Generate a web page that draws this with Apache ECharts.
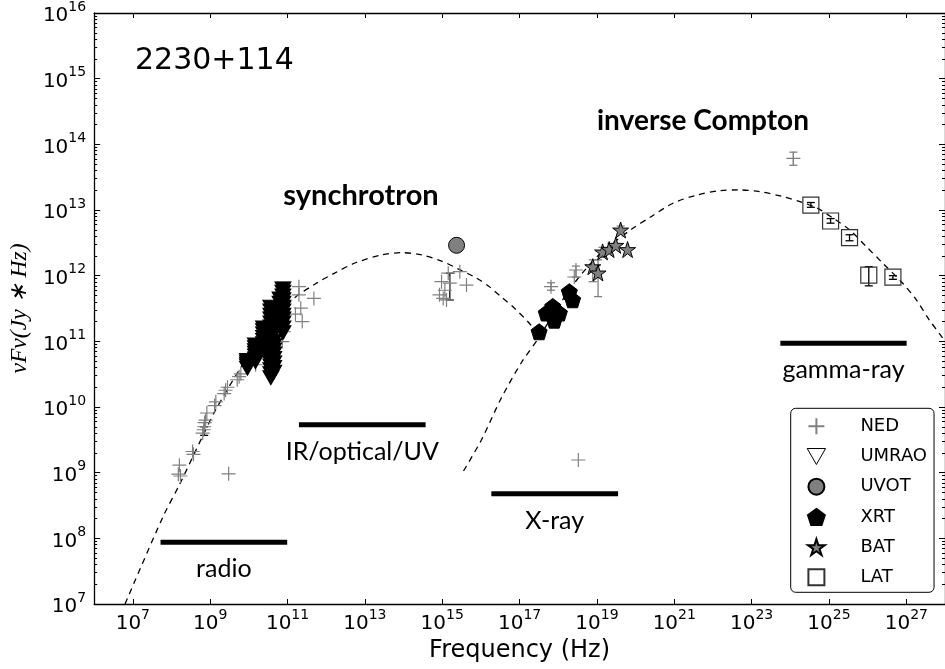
<!DOCTYPE html>
<html><head><meta charset="utf-8">
<script src="https://cdn.jsdelivr.net/npm/echarts@6/dist/echarts.min.js"></script>
<style>html,body{margin:0;padding:0;background:#fff}#c{width:945px;height:669px}</style>
</head><body><div id="c"></div>
<script>
// ---------------- data ----------------
const xTickExps = [7, 9, 11, 13, 15, 17, 19, 21, 23, 25, 27];
const yTickExps = [7, 8, 9, 10, 11, 12, 13, 14, 15, 16];

const nedPoints = [
  [1.6e8, 1.3e9], [1.5e8, 9.5e8], [1.7e8, 8.9e8],
  [3.5e8, 2.1e9], [3.7e8, 1.9e9],
  [6.4e8, 4.0e9], [7.0e8, 5.0e9], [7.6e8, 6.3e9], [8.2e8, 8.1e9], [6.8e8, 4.5e9], [7.2e8, 5.8e9],
  [1.4e9, 1.2e10], [1.3e9, 1.05e10],
  [2.5e9, 1.8e10], [2.8e9, 2.0e10], [2.3e9, 1.6e10],
  [5.6e9, 2.9e10], [6.2e9, 3.2e10], [5.0e9, 2.6e10],
  [3.0e9, 9.6e8],
  [1.5e10, 4.4e10], [7.3e10, 9.9e10], [8.1e10, 1.4e11],
  [1.97e11, 6.8e11], [1.97e11, 5.1e11], [2.2e11, 3.2e11], [2.4e11, 2.0e11], [4.8e11, 4.5e11], [1.6e11, 2.6e11],
  [9.6e14, 8.1e11], [1.06e15, 4.5e11], [1.17e15, 6.0e11], [1.43e15, 1.09e12], [1.57e15, 7.7e11],
  [1.29e15, 4.27e11], [2.85e15, 1.15e12], [4.24e15, 7.2e11], [8.5e14, 5.1e11],
  [6.5e17, 6.8e11], [2.87e18, 1.22e12], [2.6e18, 9.55e11], [3.3e18, 1.56e9],
  [1.2e24, 6.1e13]
];

const umraoNu = [9.2e9, 1.48e10, 2.4e10, 3.7e10, 4.4e10, 6.4e10, 7.6e10];
const umraoFlux = [
  [5.1e10, 4.8e10, 4.5e10, 4.2e10, 3.9e10],
  [8.8e10, 8.0e10, 7.2e10, 6.6e10, 6.0e10, 5.4e10, 4.9e10],
  [1.6e11, 1.45e11, 1.3e11, 1.15e11, 1.03e11, 9.2e10, 8.2e10, 7.2e10],
  [3.3e11, 2.9e11, 2.5e11, 2.2e11, 1.9e11, 1.65e11, 1.45e11, 1.25e11, 1.1e11, 9.6e10, 8.4e10, 7.3e10, 6.3e10, 5.5e10, 4.8e10, 4.2e10, 3.7e10, 3.2e10, 2.8e10],
  [1.0e11, 8.6e10, 7.4e10, 6.4e10, 5.5e10, 4.7e10, 4.0e10, 3.4e10],
  [4.4e11, 3.8e11, 3.2e11, 2.7e11, 2.3e11, 2.0e11, 1.7e11],
  [6.3e11, 5.6e11, 4.9e11, 4.3e11, 3.8e11, 3.3e11, 2.9e11, 2.5e11, 2.2e11, 1.9e11, 1.6e11, 1.35e11]
];

const uvotPoints = [[2.35e15, 2.9e12]];
const xrtPoints = [[3.2e17, 1.4e11], [4.9e17, 2.7e11], [7.2e17, 3.4e11], [1.07e18, 2.7e11], [7.9e17, 2.1e11], [1.93e18, 5.7e11], [2.35e18, 4.3e11]];
const batPoints = [[4.1e19, 4.96e12], [1.4e19, 2.3e12], [2.07e19, 2.5e12], [3.07e19, 2.9e12], [6.2e19, 2.5e12], [7.8e18, 1.37e12], [1.07e19, 1.1e12]];
const latPoints = [[3.4e24, 1.19e13], [1.1e25, 6.8e12], [3.4e25, 3.8e12], [1.07e26, 1.02e12], [4.5e26, 9.5e11]];

// error bars: frequency, low, high, colour
const errNu = [1.07e19, 7.8e18, 1.4e19, 4.1e19, 1.07e26, 3.4e24, 1.1e25, 3.4e25, 4.5e26, 1.2e24, 1.57e15, 7.0e8, 2.87e18, 6.5e17];
const errLo = [4.8e11, 8.1e11, 1.9e12, 4.3e12, 7.0e11, 1.1e13, 6.3e12, 3.4e12, 8.8e11, 4.8e13, 4.27e11, 3.7e9, 9.5e11, 6.0e11];
const errHi = [1.74e12, 1.74e12, 2.7e12, 5.7e12, 1.37e12, 1.3e13, 7.4e12, 4.2e12, 1.0e12, 7.6e13, 1.09e12, 5.0e9, 1.4e12, 7.8e11];
const errColor = ['#808080', '#808080', '#808080', '#808080', '#000', '#000', '#000', '#000', '#000', '#808080', '#000', '#000', '#808080', '#808080'];

// dashed model curves
const syncNu = [6.28e6, 5.97e7, 1.64e8, 6.40e8, 1.38e9, 6.84e9, 3.01e10, 1.32e11, 5.18e11, 1.69e12, 5.55e12, 2.75e13, 9.0e13, 2.94e14, 9.61e14, 2.64e15, 6.81e15, 1.56e16, 3.37e16, 7.28e16, 1.67e17, 3.21e17];
const syncFlux = [1.0e7, 2.11e8, 6.73e8, 3.62e9, 9.02e9, 4.37e10, 1.48e11, 4.27e11, 7.46e11, 1.10e12, 1.56e12, 2.07e12, 2.24e12, 2.07e12, 1.67e12, 1.26e12, 9.55e11, 6.97e11, 4.74e11, 3.22e11, 1.97e11, 1.25e11];
const icNu = [3.55e15, 1.03e16, 3.37e16, 1.10e17, 3.21e17, 8.77e17, 2.87e18, 1.26e19, 7.41e19, 2.43e20, 9.55e20, 3.89e21, 1.51e22, 5.01e22, 1.62e23, 6.46e23, 1.78e24, 4.90e24, 1.26e25, 3.43e25, 9.33e25, 2.43e26, 7.94e26, 1.82e27, 3.94e27, 9.55e27];
const icFlux = [1.06e9, 3.15e9, 1.37e10, 4.68e10, 1.16e11, 3.0e11, 8.3e11, 2.21e12, 4.97e12, 7.83e12, 1.28e13, 1.69e13, 1.97e13, 2.02e13, 1.90e13, 1.60e13, 1.34e13, 1.07e13, 7.55e12, 4.97e12, 2.75e12, 1.56e12, 7.74e11, 4.27e11, 2.11e11, 1.05e11];

// energy bands
const bandNames = ['radio', 'IR/optical/UV', 'X-ray', 'gamma-ray'];
const bandFrom = [5.2e7, 1.97e11, 1.86e16, 5.53e23];
const bandTo = [9.8e10, 3.72e14, 3.52e19, 1.02e27];
const bandLevel = [8.7e7, 5.38e9, 4.79e8, 9.33e10];

// ---------------- chart ----------------
const xTickVals = xTickExps.map(e => Math.pow(10, e));
const yTickVals = yTickExps.map(e => Math.pow(10, e));
const yMinorVals = [];
for (let e = 7; e < 16; e++) for (let m = 2; m <= 9; m++) yMinorVals.push(m * Math.pow(10, e));

const umraoPoints = [];
umraoNu.forEach((nu, i) => umraoFlux[i].forEach(f => umraoPoints.push([nu, f])));

const fontSans = '"DejaVu Sans", sans-serif';
const supFmt = v => '{b|10}{s|' + Math.round(Math.log10(v)) + '}';
const supRich = {
  b: { fontSize: 20, fontFamily: fontSans, color: '#000', lineHeight: 26, verticalAlign: 'bottom' },
  s: { fontSize: 14, fontFamily: fontSans, color: '#000', lineHeight: 26, verticalAlign: 'top' }
};

// y-axis title: fit its length to the reference (about 130 px)
const yTitle = 'νFν(Jy ∗ Hz)';
const yTitleFamily = '"Liberation Serif", serif';
const mctx = document.createElement('canvas').getContext('2d');
mctx.font = 'italic 24px ' + yTitleFamily;
const yTitleSize = Math.max(16, Math.min(30, 24 * 130 / mctx.measureText(yTitle).width));

const crossPath = 'path://M0,50L100,50M50,0L50,100';
const triPath = 'path://M0,0L100,0L50,87Z';
const pentPath = 'path://M50,0L97.55,34.55L79.39,90.45L20.61,90.45L2.45,34.55Z';
const starPath = 'path://M50,0L61.17,34.63L97.55,34.55L68.07,55.87L79.39,90.45L50,69L20.61,90.45L31.93,55.87L2.45,34.55L38.83,34.63Z';
const squarePath = 'path://M0,0L100,0L100,100L0,100Z';

const axisLine = { show: true, lineStyle: { color: '#000', width: 1.3 } };
const common = { type: 'log', logBase: 10, splitLine: { show: false } };

const xAxes = [
  Object.assign({}, common, {
    min: 1e6, max: 1e28, position: 'bottom', axisLine,
    axisTick: { show: true, inside: true, length: 5, customValues: xTickVals, lineStyle: { color: '#000', width: 1 } },
    axisLabel: { show: true, customValues: xTickVals, formatter: supFmt, rich: supRich, margin: 4 },
    name: 'Frequency (Hz)', nameLocation: 'middle', nameGap: 33,
    nameTextStyle: { fontSize: 24, fontFamily: fontSans, color: '#000' }
  }),
  Object.assign({}, common, {
    min: 1e6, max: 1e28, position: 'top', axisLine,
    axisTick: { show: true, inside: true, length: 5, customValues: xTickVals, lineStyle: { color: '#000', width: 1 } },
    axisLabel: { show: false }
  })
];
function yAx(pos, major, labels, named) {
  const a = Object.assign({}, common, {
    min: 1e7, max: 1e16, position: pos, offset: 0,
    axisLine: major ? axisLine : { show: false },
    axisTick: { show: true, inside: true, length: major ? 6 : 3, customValues: major ? yTickVals : yMinorVals, lineStyle: { color: '#000', width: 1 } },
    axisLabel: labels ? { show: true, customValues: yTickVals, formatter: supFmt, rich: supRich, margin: 8 } : { show: false }
  });
  if (named) {
    a.name = yTitle;
    a.nameLocation = 'middle';
    a.nameGap = 60;
    a.nameRotate = 90;
    a.nameTextStyle = { fontSize: yTitleSize, fontFamily: yTitleFamily, fontStyle: 'italic', color: '#000' };
  }
  return a;
}
const yAxes = [yAx('left', true, true, true), yAx('left', false, false, false), yAx('right', true, false, false), yAx('right', false, false, false)];

const series = [];
series.push({ type: 'line', name: 'sync', data: syncNu.map((v, i) => [v, syncFlux[i]]), symbol: 'none', smooth: 0.3, z: 1,
  lineStyle: { color: '#000', width: 1.3, type: [6, 5] }, silent: true });
series.push({ type: 'line', name: 'ic', data: icNu.map((v, i) => [v, icFlux[i]]), symbol: 'none', smooth: 0.3, z: 1,
  lineStyle: { color: '#000', width: 1.3, type: [6, 5] }, silent: true });
bandNames.forEach((n, i) => {
  series.push({ type: 'line', name: 'band' + i, data: [[bandFrom[i], bandLevel[i]], [bandTo[i], bandLevel[i]]], symbol: 'none', z: 2,
    lineStyle: { color: '#000', width: 5, cap: 'butt' }, silent: true });
});
series.push({ type: 'scatter', name: 'bandLabels', z: 2, symbolSize: 0, silent: true,
  itemStyle: { opacity: 1, color: '#000' },
  data: bandNames.map((n, i) => [Math.sqrt(bandFrom[i] * bandTo[i]), bandLevel[i], n]),
  label: { show: true, position: 'inside', offset: [0, 27], formatter: p => p.data[2], fontFamily: 'Lato', fontSize: 25,
    color: '#000', opacity: 1, textBorderWidth: 0, textShadowBlur: 0 } });
series.push({ type: 'scatter', name: 'NED', data: nedPoints, symbol: crossPath, symbolSize: 14, z: 3,
  itemStyle: { color: 'rgba(0,0,0,0)', borderColor: '#808080', borderWidth: 1.2, opacity: 1 } });
series.push({ type: 'custom', name: 'err', z: 3, silent: true,
  data: errNu.map((v, i) => [v, errLo[i], errHi[i], i]),
  renderItem: (params, api) => {
    const lo = api.coord([api.value(0), api.value(1)]);
    const hi = api.coord([api.value(0), api.value(2)]);
    const col = errColor[api.value(3)];
    const w = 4;
    const st = { stroke: col, lineWidth: 1.3 };
    return { type: 'group', children: [
      { type: 'line', shape: { x1: lo[0], y1: lo[1], x2: hi[0], y2: hi[1] }, style: st },
      { type: 'line', shape: { x1: lo[0] - w, y1: lo[1], x2: lo[0] + w, y2: lo[1] }, style: st },
      { type: 'line', shape: { x1: hi[0] - w, y1: hi[1], x2: hi[0] + w, y2: hi[1] }, style: st }
    ] };
  } });
series.push({ type: 'scatter', name: 'UMRAO', data: umraoPoints, symbol: triPath, symbolSize: [16, 14], z: 4,
  itemStyle: { color: '#000', borderColor: '#000', borderWidth: 1, opacity: 1 } });
series.push({ type: 'scatter', name: 'UVOT', data: uvotPoints, symbol: 'circle', symbolSize: 16, z: 5,
  itemStyle: { color: '#808080', borderColor: '#000', borderWidth: 1, opacity: 1 } });
series.push({ type: 'scatter', name: 'XRT', data: xrtPoints, symbol: pentPath, symbolSize: 16, z: 5,
  itemStyle: { color: '#000', borderColor: '#000', borderWidth: 1, opacity: 1 } });
series.push({ type: 'scatter', name: 'BAT', data: batPoints, symbol: starPath, symbolSize: 16, z: 5,
  itemStyle: { color: '#808080', borderColor: '#000', borderWidth: 1, opacity: 1 } });
series.push({ type: 'scatter', name: 'LAT', data: latPoints, symbol: squarePath, symbolSize: 16, z: 5,
  itemStyle: { color: 'rgba(0,0,0,0)', borderColor: '#333', borderWidth: 1.2, opacity: 1 } });

const chart = echarts.init(document.getElementById('c'), null, { renderer: 'canvas' });
chart.setOption({
  animation: false,
  backgroundColor: '#fff',
  grid: { left: 91, top: 13, width: 854.7, height: 591, containLabel: false },
  xAxis: xAxes,
  yAxis: yAxes,
  legend: {
    orient: 'vertical', left: 790.7, top: 408.3,
    padding: [9, 7, 6, 16], itemWidth: 30, itemHeight: 16, itemGap: 12.2,
    backgroundColor: '#fff', borderColor: '#000', borderWidth: 1, borderRadius: 5,
    textStyle: { fontSize: 18, lineHeight: 16, fontFamily: fontSans, color: '#000', padding: [0, 0, 0, 24] },
    selectedMode: false,
    data: [
      { name: 'NED' },
      { name: 'UMRAO', itemStyle: { color: '#fff', borderColor: '#000', borderWidth: 1 } },
      { name: 'UVOT' }, { name: 'XRT' }, { name: 'BAT' }, { name: 'LAT' }
    ]
  },
  graphic: [
    { type: 'text', x: 135, y: 61, style: { text: '2230+114', font: '30px "DejaVu Sans"', fill: '#000', textAlign: 'left', textVerticalAlign: 'middle' } },
    { type: 'text', x: 361, y: 196, style: { text: 'synchrotron', font: 'bold 29px Lato', fill: '#000', textAlign: 'center', textVerticalAlign: 'middle' } },
    { type: 'text', x: 703, y: 121, style: { text: 'inverse Compton', font: 'bold 28px Lato', fill: '#000', textAlign: 'center', textVerticalAlign: 'middle' } }
  ],
  series
});
</script></body></html>
